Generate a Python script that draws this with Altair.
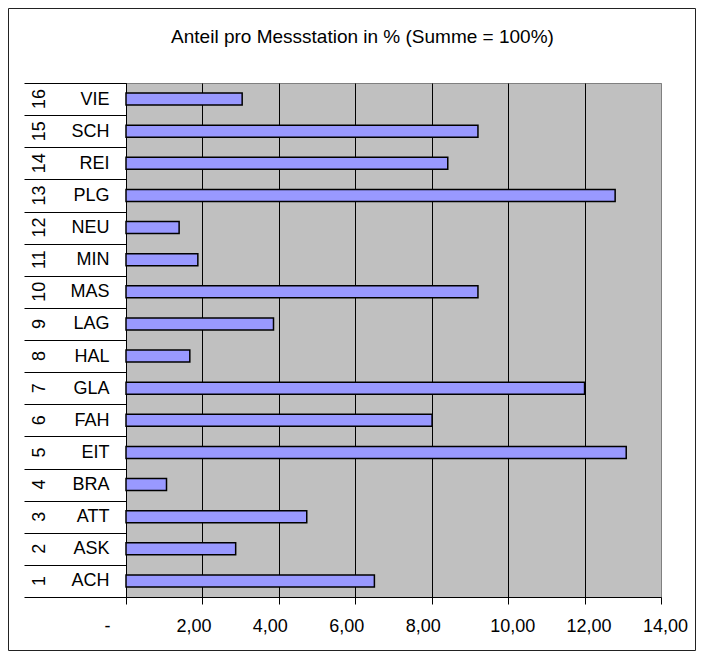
import altair as alt
import pandas as pd

# ---- data ----
stations = ["ACH", "ASK", "ATT", "BRA", "EIT", "FAH", "GLA", "HAL",
            "LAG", "MAS", "MIN", "NEU", "PLG", "REI", "SCH", "VIE"]
numbers = [str(i) for i in range(1, 17)]
shares = [6.50, 2.87, 4.73, 1.06, 13.09, 8.01, 12.00, 1.67,
          3.86, 9.21, 1.88, 1.39, 12.80, 8.42, 9.21, 3.04]
x_ticks = [0, 2, 4, 6, 8, 10, 12, 14]
title_text = "Anteil pro Messstation in % (Summe = 100%)"

df = pd.DataFrame({"Station": stations, "Nr": numbers, "Anteil": shares})
order = stations[::-1]
FONT = "Liberation Sans"

y_enc = alt.Y(
    "Station:N", sort=order,
    scale=alt.Scale(paddingInner=0, paddingOuter=0),
    axis=alt.Axis(title=None, tickBand="extent", tickSize=102, tickColor="black",
                  tickWidth=1, domainColor="black", labelAlign="right",
                  labelBaseline="middle", labelPadding=-85, labelFont=FONT,
                  labelFontSize=18, labelColor="black", grid=False),
)

frame = alt.Chart(pd.DataFrame({"k": [0]})).mark_rect(
    fillOpacity=0, stroke="#222222", strokeWidth=1
).encode(x=alt.value(-117.5), x2=alt.value(569.5), y=alt.value(-74.5), y2=alt.value(567.5))

bars = alt.Chart(df).mark_bar(size=12, fill="#9999FF", stroke="black", strokeWidth=1.5).encode(
    x=alt.X(
        "Anteil:Q",
        scale=alt.Scale(domain=[0, 14], nice=False, zero=True),
        axis=alt.Axis(
            title=None, values=x_ticks, grid=True,
            gridColor={"condition": {"test": "datum.value == 14", "value": "#808080"}, "value": "black"},
            gridOpacity=1, gridWidth=1, tickColor="black", tickSize=7, domainColor="black",
            labelExpr="datum.value == 0 ? '-' : replace(format(datum.value, '.2f'), '.', ',')",
            labelOffset={"expr": "datum.value == 0 ? -19 : (datum.value >= 10 ? 4 : -9)"},
            labelPadding=13, labelFont=FONT, labelFontSize=18, labelColor="black",
            labelBaseline="top", labelAlign="center",
        ),
    ),
    y=y_enc,
)

nums = alt.Chart(df).mark_text(
    angle=270, font=FONT, fontSize=18, color="black", align="center", baseline="middle"
).encode(y=y_enc, x=alt.value(-86), text="Nr:N")

chart = alt.layer(frame, bars, nums).properties(
    width=535, height=514,
    background="white",
    autosize=alt.AutoSizeParams(type="none"),
    padding={"left": 118, "top": 75, "right": 35, "bottom": 60},
    title=alt.Title(title_text, font=FONT, fontSize=19, fontWeight="normal", color="black",
                    anchor="middle", frame="group", dx=-31, offset=-54, baseline="alphabetic"),
).configure_view(fill="#C0C0C0", stroke="#808080", strokeWidth=1)

chart.save("out.html", embed_options={"renderer": "svg", "actions": False})
